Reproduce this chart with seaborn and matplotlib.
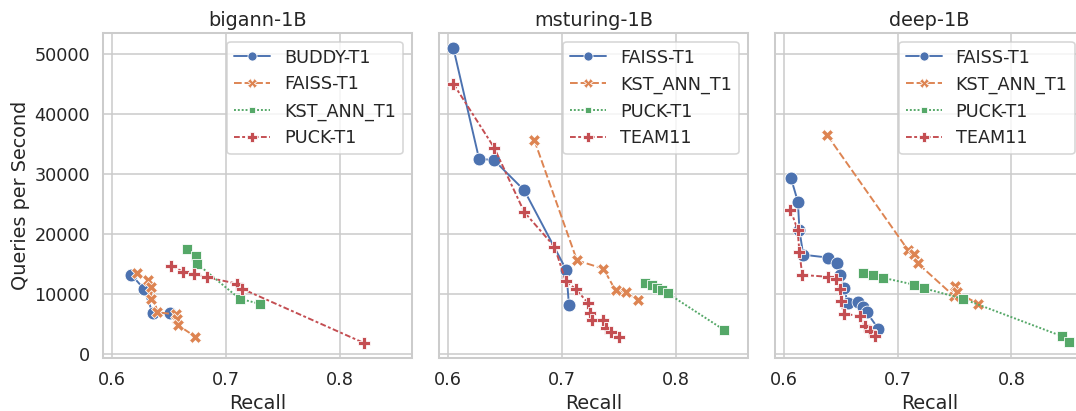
import matplotlib
matplotlib.use("Agg")
import matplotlib.pyplot as plt
import numpy as np
import pandas as pd
import seaborn as sns

# bigann-1B
bigann_buddy_recall = [0.6168, 0.6277, 0.6357, 0.6507]
bigann_buddy_qps = [13170, 10830, 6720, 6800]
bigann_faiss_recall = [0.6217, 0.6315, 0.6343, 0.6340, 0.6396, 0.6560, 0.6570, 0.6582, 0.6728]
bigann_faiss_qps = [13380, 12300, 11100, 9100, 6930, 6550, 5800, 4720, 2880]
bigann_kst_recall = [0.6661, 0.6732, 0.6746, 0.7120, 0.7297]
bigann_kst_qps = [17380, 16270, 15000, 9170, 8330]
bigann_puck_recall = [0.6516, 0.6625, 0.6720, 0.6835, 0.7100, 0.7142, 0.8218]
bigann_puck_qps = [14630, 13670, 13300, 12720, 11670, 10830, 1770]

# msturing-1B
msturing_faiss_recall = [0.6044, 0.6271, 0.6404, 0.6669, 0.7038, 0.7062]
msturing_faiss_qps = [51000, 32500, 32220, 27220, 14000, 8170]
msturing_kst_recall = [0.6758, 0.7133, 0.7366, 0.7472, 0.7563, 0.7667]
msturing_kst_qps = [35550, 15550, 14170, 10550, 10220, 9000]
msturing_puck_recall = [0.7731, 0.7793, 0.7835, 0.7881, 0.7932, 0.8425]
msturing_puck_qps = [11830, 11430, 10880, 10550, 10050, 4000]
msturing_team11_recall = [0.6044, 0.6404, 0.6669, 0.6935, 0.7035, 0.7120, 0.7227,
                          0.7244, 0.7262, 0.7363, 0.7392, 0.7436, 0.7503]
msturing_team11_qps = [45000, 34330, 23600, 17830, 12050, 10830, 8520,
                       6720, 5600, 5680, 4380, 3600, 2720]

# deep-1B
deep_faiss_recall = [0.6059, 0.6121, 0.6135, 0.6168, 0.6387, 0.6469, 0.6496, 0.6531,
                     0.6558, 0.6652, 0.6696, 0.6726, 0.6829]
deep_faiss_qps = [29330, 25330, 20550, 16500, 16020, 15050, 13180, 10880,
                  8380, 8600, 7770, 6930, 4170]
deep_kst_recall = [0.6380, 0.7088, 0.7139, 0.7174, 0.7502, 0.7498, 0.7522, 0.7705]
deep_kst_qps = [36380, 17330, 16670, 15100, 11220, 9550, 10270, 8330]
deep_puck_recall = [0.6696, 0.6782, 0.6867, 0.7147, 0.7227, 0.7572, 0.8445, 0.8510]
deep_puck_qps = [13500, 13170, 12670, 11500, 10930, 9170, 2930, 1930]
deep_team11_recall = [0.6056, 0.6118, 0.6135, 0.6159, 0.6383, 0.6460, 0.6489, 0.6504,
                      0.6524, 0.6664, 0.6711, 0.6752, 0.6799]
deep_team11_qps = [24000, 20680, 16930, 13130, 12830, 12420, 10770, 8720,
                   6600, 6380, 4550, 3720, 3000]

datasets = ["bigann-1B", "msturing-1B", "deep-1B"]
series = {
    "bigann-1B": [("BUDDY-T1", bigann_buddy_recall, bigann_buddy_qps),
                  ("FAISS-T1", bigann_faiss_recall, bigann_faiss_qps),
                  ("KST_ANN_T1", bigann_kst_recall, bigann_kst_qps),
                  ("PUCK-T1", bigann_puck_recall, bigann_puck_qps)],
    "msturing-1B": [("FAISS-T1", msturing_faiss_recall, msturing_faiss_qps),
                    ("KST_ANN_T1", msturing_kst_recall, msturing_kst_qps),
                    ("PUCK-T1", msturing_puck_recall, msturing_puck_qps),
                    ("TEAM11", msturing_team11_recall, msturing_team11_qps)],
    "deep-1B": [("FAISS-T1", deep_faiss_recall, deep_faiss_qps),
                ("KST_ANN_T1", deep_kst_recall, deep_kst_qps),
                ("PUCK-T1", deep_puck_recall, deep_puck_qps),
                ("TEAM11", deep_team11_recall, deep_team11_qps)],
}

sns.set_theme(context="talk", style="whitegrid")
plt.rcParams['font.family'] = ['DejaVu Sans']

dpi = 77
fig, axes = plt.subplots(1, 3, figsize=(1076 / dpi, 411 / dpi), dpi=dpi, sharex=True, sharey=True)
fig.subplots_adjust(left=0.096, right=1.0069, bottom=0.129, top=0.9204, wspace=0.0895)

for ax, name in zip(axes, datasets):
    rows = []
    for algo, rec, qps in series[name]:
        for r, q in zip(rec, qps):
            rows.append({"algo": algo, "Recall": r, "qps": q})
    df = pd.DataFrame(rows)
    sns.lineplot(data=df, x="Recall", y="qps", hue="algo", style="algo",
                 markers=True, estimator=None, markersize=12, linewidth=1.8, ax=ax)
    ax.set_title(name)
    ax.set_xlabel("Recall")
    ax.set_ylabel("Queries per Second" if ax is axes[0] else "")
    sns.move_legend(ax, "upper right", title=None)
    for h in ax.get_legend().legend_handles:
        h.set_markersize(8.5)

plt.savefig("out.png", dpi=dpi)
